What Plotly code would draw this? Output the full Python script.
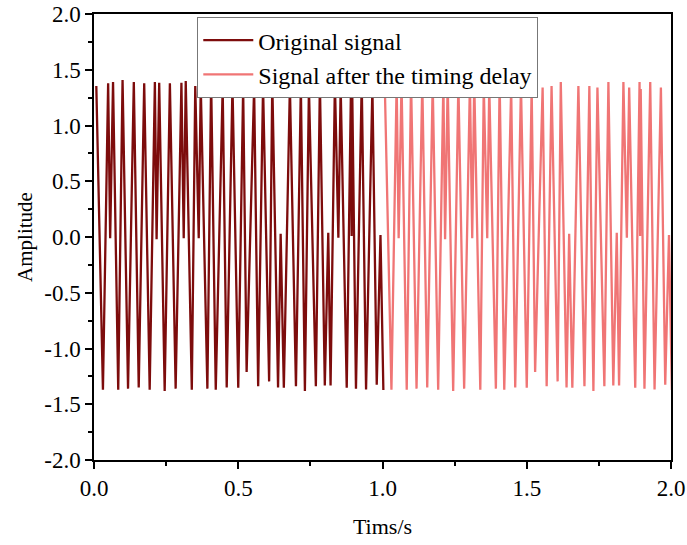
import plotly.graph_objects as go

# Vertex times (s) and amplitudes of the original signal
orig_t = [0.008, 0.031, 0.049, 0.056, 0.066, 0.084, 0.099, 0.118, 0.138, 0.155,
          0.174, 0.193, 0.211, 0.217, 0.226, 0.245, 0.263, 0.283, 0.303, 0.311,
          0.318, 0.339, 0.351, 0.363, 0.370, 0.393, 0.406, 0.422, 0.446, 0.460,
          0.480, 0.500, 0.517, 0.529, 0.555, 0.569, 0.586, 0.607, 0.618, 0.638,
          0.647, 0.658, 0.679, 0.700, 0.717, 0.731, 0.745, 0.769, 0.783, 0.800,
          0.812, 0.820, 0.835, 0.847, 0.855, 0.876, 0.891, 0.893, 0.895, 0.908,
          0.928, 0.943, 0.965, 0.980, 0.993, 1.003]
orig_y = [1.355, -1.370, 1.378, -0.010, 1.390, -1.370, 1.407, -1.360, 1.390, -1.350,
          1.378, -1.370, 1.390, -0.020, 1.384, -1.380, 1.378, -1.360, 1.384, -0.010,
          1.398, -1.370, 1.355, -0.010, 1.355, -1.360, 1.398, -1.370, 1.340, -1.350,
          1.360, -1.352, 1.340, -1.210, 1.340, -1.338, 1.355, -1.295, 1.390, -1.350,
          0.030, -1.352, 1.355, -1.338, 1.355, -1.380, 1.340, -1.338, 1.390, -1.332,
          0.037, -1.332, 1.390, -0.006, 1.340, -1.352, 1.390, 0.010, 1.327, -1.360,
          1.390, -1.367, 1.340, -1.324, 0.017, -1.372]

# The delayed signal is the same waveform shifted by the timing delay
delay_s = 1.0
delayed_t = [t + delay_s for t in orig_t]
delayed_y = list(orig_y)

x_tickvals = [0.0, 0.5, 1.0, 1.5, 2.0]
x_ticktext = ["0.0", "0.5", "1.0", "1.5", "2.0"]
y_tickvals = [-2.0, -1.5, -1.0, -0.5, 0.0, 0.5, 1.0, 1.5, 2.0]
y_ticktext = ["-2.0", "-1.5", "-1.0", "-0.5", "0.0", "0.5", "1.0", "1.5", "2.0"]

FONT = "Liberation Serif, Times New Roman, serif"

fig = go.Figure()
fig.add_trace(go.Scatter(x=orig_t, y=orig_y, mode="lines", name="Original signal",
                         line=dict(color="#7d0c0c", width=2.3)))
fig.add_trace(go.Scatter(x=delayed_t, y=delayed_y, mode="lines",
                         name="Signal after the timing delay",
                         line=dict(color="#f07575", width=2.3)))

axis_common = dict(showline=True, linecolor="black", linewidth=1.5, mirror=True,
                   showgrid=False, zeroline=False, ticks="outside", ticklen=7,
                   tickwidth=1.5, tickcolor="black", automargin=False,
                   tickfont=dict(family=FONT, size=23, color="black"))

fig.update_xaxes(range=[0, 2], tickvals=x_tickvals, ticktext=x_ticktext,
                 minor=dict(dtick=0.25, tick0=0, ticks="outside", ticklen=4,
                            tickwidth=1.5, tickcolor="black"),
                 title=dict(text="Tims/s", font=dict(family=FONT, size=22, color="black"),
                            standoff=18),
                 **axis_common)
fig.update_yaxes(range=[-2, 2], tickvals=y_tickvals, ticktext=y_ticktext,
                 minor=dict(dtick=0.25, tick0=0, ticks="outside", ticklen=4,
                            tickwidth=1.5, tickcolor="black"),
                 title=dict(text="Amplitude", font=dict(family=FONT, size=21, color="black"),
                            standoff=6),
                 **axis_common)

fig.update_layout(
    width=687, height=545,
    margin=dict(l=94, r=16, t=14, b=85),
    plot_bgcolor="white", paper_bgcolor="white",
    font=dict(family=FONT, color="black"),
    legend=dict(x=0.179, y=0.993, xanchor="left", yanchor="top",
                bgcolor="white", bordercolor="#777777", borderwidth=1,
                font=dict(family=FONT, size=24, color="black"),
                tracegroupgap=0, itemwidth=50),
)

# Remove the browser's default body margin so the figure fills the window exactly
fig.write_html("out.html", config={"displayModeBar": False},
               post_script="document.body.style.margin='0';document.body.style.overflow='hidden';")
